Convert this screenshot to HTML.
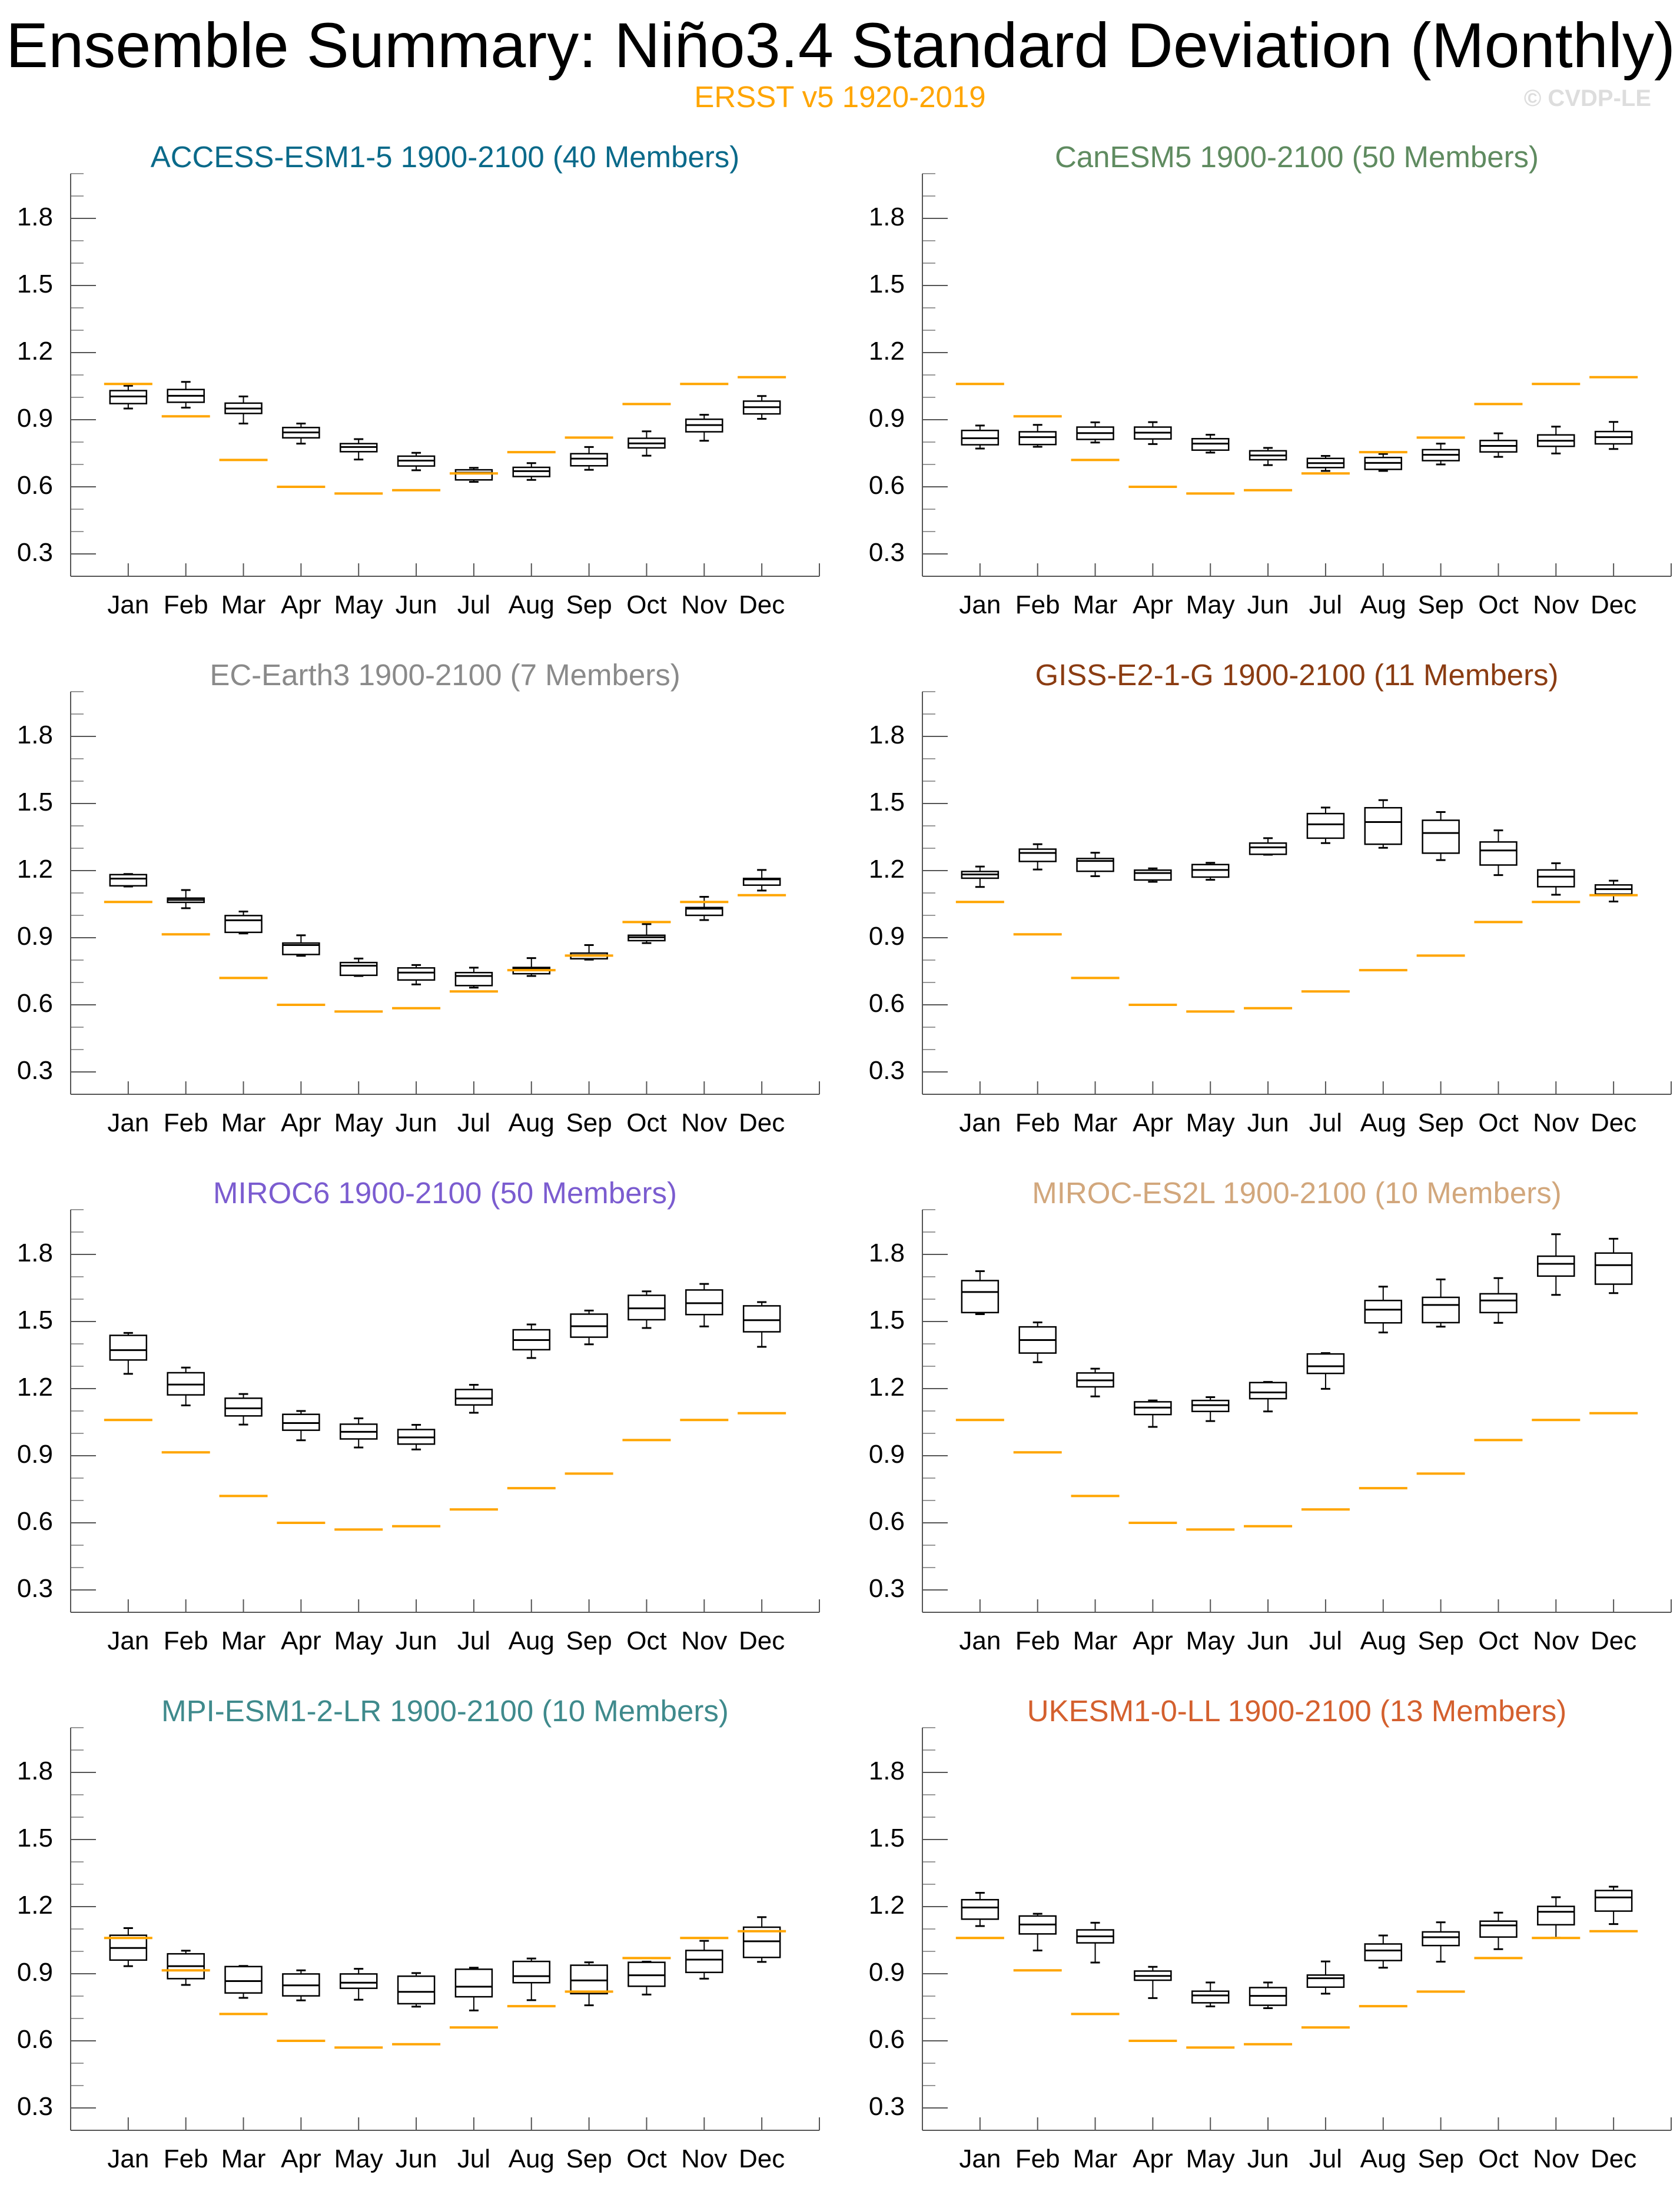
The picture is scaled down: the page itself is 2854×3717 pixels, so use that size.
<!DOCTYPE html>
<html><head><meta charset="utf-8"><title>Ensemble Summary: Niño3.4 Standard Deviation (Monthly)</title>
<style>html,body{margin:0;padding:0;background:#fff;}svg{display:block;font-family:"Liberation Sans",Arial,sans-serif;}</style>
</head><body>
<svg id="chart" xmlns="http://www.w3.org/2000/svg" width="2854" height="3717" viewBox="0 0 2854 3717">
<rect x="0" y="0" width="2854" height="3717" fill="#fff"/>
<text x="10" y="114" font-size="108" textLength="2836" lengthAdjust="spacingAndGlyphs" fill="#000">Ensemble Summary: Niño3.4 Standard Deviation (Monthly)</text>
<text x="1427" y="182" font-size="51" text-anchor="middle" fill="#ffa500">ERSST v5 1920-2019</text>
<text x="2805" y="180" font-size="40" font-weight="bold" text-anchor="end" fill="#dddddd">© CVDP-LE</text>
<g id="panels"></g>
</svg>
<script>
const months = ["Jan","Feb","Mar","Apr","May","Jun","Jul","Aug","Sep","Oct","Nov","Dec"];
const yTicks = [0.3,0.6,0.9,1.2,1.5,1.8];
const yTickLabels = ["0.3","0.6","0.9","1.2","1.5","1.8"];
const obs = [1.06,0.915,0.72,0.60,0.57,0.585,0.66,0.755,0.82,0.97,1.06,1.09];

const panelNames = ["ACCESS-ESM1-5 1900-2100 (40 Members)","CanESM5 1900-2100 (50 Members)","EC-Earth3 1900-2100 (7 Members)","GISS-E2-1-G 1900-2100 (11 Members)","MIROC6 1900-2100 (50 Members)","MIROC-ES2L 1900-2100 (10 Members)","MPI-ESM1-2-LR 1900-2100 (10 Members)","UKESM1-0-LL 1900-2100 (13 Members)"];
const panelColors = ["#0a6a8a","#5f8b60","#8a8a8a","#8b3c12","#7b5cd0","#d2a77c","#3f8a8c","#d4602e"];

// each box: [min, q1, median, q3, max]
const accessBoxes = [[0.950,0.972,1.004,1.030,1.052],[0.954,0.978,1.007,1.035,1.069],[0.883,0.928,0.950,0.974,1.004],[0.793,0.819,0.843,0.865,0.883],[0.722,0.757,0.778,0.793,0.813],[0.674,0.693,0.717,0.737,0.752],[0.622,0.631,0.663,0.676,0.685],[0.631,0.646,0.670,0.687,0.706],[0.676,0.694,0.726,0.748,0.778],[0.739,0.774,0.794,0.817,0.848],[0.806,0.846,0.876,0.902,0.922],[0.904,0.926,0.956,0.983,1.006]];
const canesmBoxes = [[0.771,0.788,0.817,0.852,0.874],[0.779,0.789,0.822,0.846,0.877],[0.798,0.812,0.840,0.867,0.888],[0.791,0.814,0.842,0.867,0.889],[0.753,0.764,0.793,0.815,0.833],[0.697,0.721,0.740,0.761,0.774],[0.671,0.686,0.706,0.727,0.738],[0.671,0.678,0.707,0.731,0.747],[0.700,0.717,0.743,0.766,0.793],[0.734,0.756,0.783,0.807,0.839],[0.749,0.781,0.806,0.832,0.869],[0.769,0.792,0.822,0.847,0.890]];
const ecearthBoxes = [[1.129,1.132,1.164,1.182,1.185],[1.032,1.058,1.069,1.077,1.113],[0.919,0.924,0.978,0.999,1.017],[0.819,0.825,0.867,0.876,0.911],[0.729,0.732,0.775,0.789,0.807],[0.691,0.711,0.744,0.765,0.778],[0.677,0.686,0.729,0.744,0.766],[0.729,0.739,0.763,0.767,0.809],[0.802,0.806,0.822,0.831,0.867],[0.876,0.887,0.902,0.911,0.961],[0.979,1.000,1.030,1.035,1.083],[1.111,1.135,1.161,1.165,1.203]];
const gissBoxes = [[1.127,1.166,1.183,1.196,1.218],[1.205,1.241,1.279,1.296,1.318],[1.175,1.197,1.243,1.254,1.280],[1.150,1.158,1.189,1.202,1.210],[1.159,1.171,1.203,1.227,1.235],[1.271,1.273,1.304,1.323,1.345],[1.323,1.345,1.407,1.455,1.482],[1.302,1.318,1.417,1.481,1.515],[1.247,1.278,1.368,1.425,1.462],[1.180,1.225,1.290,1.328,1.380],[1.092,1.128,1.173,1.203,1.233],[1.062,1.095,1.117,1.136,1.155]];
const miroc6Boxes = [[1.266,1.328,1.372,1.438,1.449],[1.125,1.172,1.218,1.271,1.294],[1.039,1.078,1.112,1.157,1.176],[0.969,1.014,1.046,1.085,1.100],[0.937,0.975,1.007,1.041,1.067],[0.928,0.952,0.982,1.017,1.038],[1.092,1.127,1.156,1.196,1.217],[1.337,1.374,1.417,1.463,1.487],[1.398,1.430,1.479,1.533,1.549],[1.471,1.508,1.559,1.617,1.635],[1.478,1.531,1.582,1.641,1.668],[1.387,1.454,1.506,1.570,1.587]];
const mirocEs2lBoxes = [[1.533,1.540,1.632,1.683,1.725],[1.318,1.359,1.417,1.476,1.496],[1.165,1.208,1.237,1.270,1.289],[1.029,1.084,1.115,1.141,1.147],[1.055,1.098,1.126,1.147,1.162],[1.098,1.155,1.183,1.227,1.230],[1.199,1.268,1.300,1.355,1.359],[1.451,1.494,1.553,1.594,1.656],[1.477,1.495,1.574,1.608,1.688],[1.494,1.540,1.594,1.624,1.694],[1.619,1.703,1.758,1.792,1.890],[1.627,1.667,1.752,1.806,1.870]];
const mpiBoxes = [[0.934,0.961,1.015,1.072,1.104],[0.850,0.878,0.934,0.989,1.003],[0.792,0.814,0.867,0.932,0.935],[0.781,0.801,0.848,0.899,0.915],[0.784,0.835,0.860,0.899,0.922],[0.753,0.766,0.819,0.889,0.903],[0.736,0.797,0.842,0.920,0.927],[0.782,0.860,0.889,0.955,0.968],[0.759,0.811,0.870,0.938,0.951],[0.807,0.844,0.893,0.951,0.954],[0.878,0.906,0.963,1.004,1.047],[0.953,0.973,1.045,1.108,1.153]];
const ukesmBoxes = [[1.113,1.144,1.196,1.231,1.262],[1.004,1.078,1.120,1.158,1.168],[0.950,1.038,1.067,1.096,1.128],[0.791,0.871,0.890,0.912,0.931],[0.754,0.770,0.803,0.822,0.861],[0.746,0.759,0.801,0.838,0.861],[0.811,0.840,0.880,0.894,0.955],[0.927,0.959,1.004,1.033,1.071],[0.954,1.026,1.063,1.087,1.130],[1.010,1.064,1.116,1.135,1.173],[1.061,1.119,1.177,1.201,1.242],[1.122,1.180,1.241,1.272,1.289]];
const allBoxes = [accessBoxes,canesmBoxes,ecearthBoxes,gissBoxes,miroc6Boxes,mirocEs2lBoxes,mpiBoxes,ukesmBoxes];

const NS = "http://www.w3.org/2000/svg";
const root = document.getElementById("panels");
const colX = [120, 1567];
const rowY = [295, 1175, 2055, 2935];
const PW = 1272, PH = 684, YMIN = 0.2, YMAX = 2.0, XMAX = 13;

function mk(tag, attrs, parent){
  const e = document.createElementNS(NS, tag);
  for (const k in attrs) e.setAttribute(k, attrs[k]);
  parent.appendChild(e);
  return e;
}

for (let p = 0; p < 8; p++) {
  const x0 = colX[p % 2], y0 = rowY[Math.floor(p / 2)];
  const sx = v => x0 + v / XMAX * PW;
  const sy = v => y0 + (YMAX - v) / (YMAX - YMIN) * PH;
  const g = mk("g", {}, root);
  
  

  const t = mk("text", {x: x0 + PW/2, y: y0 - 11, "font-size": 51, "text-anchor": "middle", fill: panelColors[p]}, g);
  t.textContent = panelNames[p];
  
  

  for (let i = 2; i <= 20; i++) {
    const v = i / 10;
    const major = yTicks.some(tv => Math.abs(tv - v) < 1e-6);
    const tk = mk("line", {x1: x0, x2: x0 + (major ? 43 : 22), y1: sy(v), y2: sy(v), stroke: major ? "#555" : "#999", "stroke-width": 2}, g);
    
    
  }
  yTicks.forEach((v, i) => {
    const lb = mk("text", {x: x0 - 30, y: sy(v) + 12, "font-size": 44, "text-anchor": "end", fill: "#000"}, g);
    lb.textContent = yTickLabels[i];
    
    
  });

  const ya = mk("line", {x1: x0, x2: x0, y1: y0, y2: y0 + PH, stroke: "#555", "stroke-width": 2}, g);
  
  
  const xa = mk("line", {x1: x0, x2: x0 + PW, y1: y0 + PH, y2: y0 + PH, stroke: "#555", "stroke-width": 2}, g);
  
  
  for (let m = 1; m <= 13; m++) {
    const xt = mk("line", {x1: sx(m), x2: sx(m), y1: y0 + PH, y2: y0 + PH - 22, stroke: "#555", "stroke-width": 2}, g);
    
    
  }
  months.forEach((mn, i) => {
    const ml = mk("text", {x: sx(i + 1), y: y0 + PH + 63, "font-size": 44, "text-anchor": "middle", fill: "#000"}, g);
    ml.textContent = mn;
    
    
  });

  allBoxes[p].forEach((b, i) => {
    const cx = sx(i + 1), hw = 31, cw = 8;
    const bg = mk("g", {stroke: "#000", fill: "none"}, g);
    
    
    mk("line", {x1: cx, x2: cx, y1: sy(b[4]), y2: sy(b[3]), "stroke-width": 2}, bg);
    mk("line", {x1: cx, x2: cx, y1: sy(b[1]), y2: sy(b[0]), "stroke-width": 2}, bg);
    mk("line", {x1: cx - cw, x2: cx + cw, y1: sy(b[4]), y2: sy(b[4]), "stroke-width": 3}, bg);
    mk("line", {x1: cx - cw, x2: cx + cw, y1: sy(b[0]), y2: sy(b[0]), "stroke-width": 3}, bg);
    mk("rect", {x: cx - hw, y: sy(b[3]), width: 2 * hw, height: Math.max(1, sy(b[1]) - sy(b[3])), "stroke-width": 2.5}, bg);
    mk("line", {x1: cx - hw, x2: cx + hw, y1: sy(b[2]), y2: sy(b[2]), "stroke-width": 3}, bg);
  });
  obs.forEach((v, i) => {
    const ol = mk("line", {x1: sx(i + 1) - 41, x2: sx(i + 1) + 41, y1: sy(v), y2: sy(v), stroke: "#ffa500", "stroke-width": 4}, g);
    
    
  });
}
</script>
</body></html>
